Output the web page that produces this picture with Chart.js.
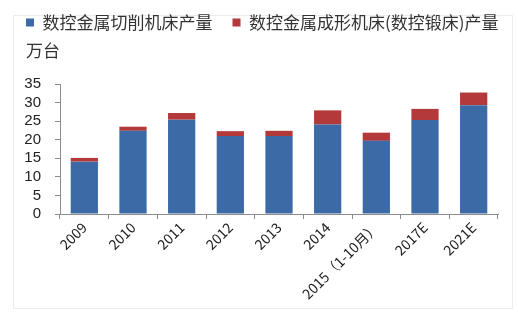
<!DOCTYPE html>
<html>
<head>
<meta charset="utf-8">
<script src="https://cdn.jsdelivr.net/npm/chart.js@4"></script>
<style>
    html, body { margin: 0; padding: 0; background: #ffffff; }
    #wrap { width: 518px; height: 326px; position: relative; }
</style>
</head>
<body>
<div id="wrap"><canvas id="myChart"></canvas></div>
<script>
// data
const years = ['2009', '2010', '2011', '2012', '2013', '2014', '2015（1-10月）', '2017E', '2021E'];
const qieXue = [14.1, 22.4, 25.4, 21.0, 21.0, 24.1, 19.7, 25.3, 29.3];
const chengXing = [1.0, 1.1, 1.8, 1.3, 1.4, 3.8, 2.2, 3.0, 3.4];
const yTicks = [0, 5, 10, 15, 20, 25, 30, 35];
const unitLabel = '万台';

const cjk = "'Noto Sans CJK SC', 'Noto Sans', sans-serif";
const latin = "'Liberation Sans', Arial, sans-serif";

// the unit label above the y axis, a faint frame, and extra room under the legend
const extras = {
    id: 'extras',
    beforeLayout(chart) {
        let lg = chart.legend;
        if (lg && !lg._patched) {
            let fit = lg.fit;
            lg.fit = function () {
                let w = this.maxWidth;
                this.maxWidth = 600;   // keep both items on one row
                fit.call(this);
                this.maxWidth = w;
                this.width = w;
                this.height += 31;
            };
            lg._patched = true;
        }
    },
    afterLayout(chart) {
        // legend runs a little past the plot's right edge and sits high, as in the picture
        let lg = chart.legend;
        if (lg) {
            lg.right = 600;
            lg.top -= 12;
            lg.bottom -= 12;
        }
    },
    beforeDraw(chart) {
        let ctx = chart.ctx;
        ctx.save();
        ctx.strokeStyle = '#ececec';
        ctx.lineWidth = 1;
        ctx.strokeRect(13.5, 15.5, 499, 293);
        ctx.restore();
    },
    afterDraw(chart) {
        let ctx = chart.ctx;
        ctx.save();
        ctx.fillStyle = '#333333';
        ctx.font = '17px ' + cjk;
        ctx.textBaseline = 'middle';
        ctx.fillText(unitLabel, 26, 51);
        ctx.restore();
    }
};

function graficar() {
    let ctx = document.getElementById('myChart');
    const data = {
        labels: years,
        datasets: [{
            label: '数控金属切削机床产量',
            data: qieXue,
            backgroundColor: '#3b6aa6'
        }, {
            label: '数控金属成形机床(数控锻床)产量',
            data: chengXing,
            backgroundColor: '#b3393b'
        }]
    };
    const config = {
        type: 'bar',
        data: data,
        options: {
            responsive: true,
            maintainAspectRatio: false,
            animation: false,
            datasets: { bar: { categoryPercentage: 1, barPercentage: 0.56 } },
            layout: { padding: { left: 6, right: 20, top: 6, bottom: 0 } },
            plugins: {
                tooltip: { enabled: false },
                legend: {
                    position: 'top',
                    align: 'start',
                    labels: {
                        boxWidth: 8,
                        boxHeight: 8,
                        padding: 20,
                        color: '#333333',
                        font: { family: cjk, size: 17 }
                    }
                }
            },
            scales: {
                x: {
                    stacked: true,
                    afterFit: (axis) => { axis.height = 112; axis.paddingLeft = 0; axis.paddingRight = 0; },
                    grid: { display: true, drawOnChartArea: false, color: '#8c8c8c', tickLength: 5, offset: true },
                    border: { color: '#8c8c8c' },
                    ticks: {
                        color: '#222222',
                        font: { family: cjk, size: 14 },
                        maxRotation: 45,
                        minRotation: 45,
                        padding: 0
                    }
                },
                y: {
                    stacked: true,
                    min: 0,
                    max: 35,
                    afterBuildTicks: (axis) => { axis.ticks = yTicks.map(v => ({ value: v })); },
                    afterFit: (axis) => { axis.width = 54; axis.paddingTop = 0; axis.paddingBottom = 0; },
                    grid: { display: true, drawOnChartArea: false, color: '#8c8c8c', tickLength: 5 },
                    border: { color: '#8c8c8c' },
                    ticks: {
                        autoSkip: false,
                        color: '#222222',
                        font: { family: latin, size: 15 },
                        padding: 14
                    }
                }
            }
        },
        plugins: [extras]
    };
    new Chart(ctx, config);
}
graficar();
</script>
</body>
</html>
